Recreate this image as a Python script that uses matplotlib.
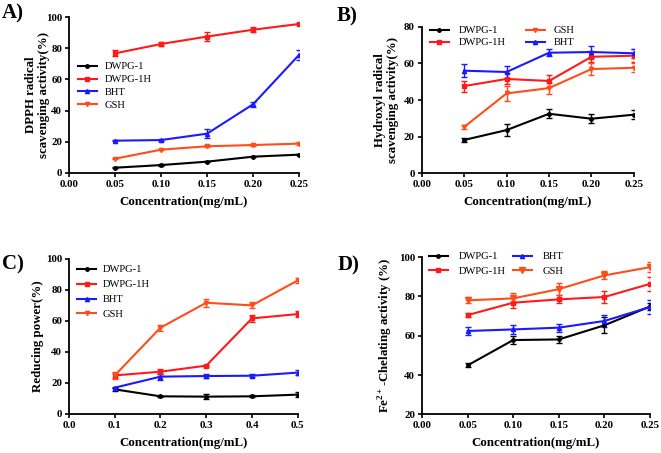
import matplotlib
matplotlib.use("Agg")
import matplotlib.pyplot as plt
from matplotlib.lines import Line2D

plt.rcParams['font.family'] = ['Liberation Serif', 'DejaVu Serif']
plt.rcParams['mathtext.fontset'] = 'custom'
plt.rcParams['mathtext.rm'] = 'Liberation Serif'
plt.rcParams['mathtext.bf'] = 'Liberation Serif:bold'

BLACK = '#000000'
RED = '#ff1a1a'
BLUE = '#1a1aff'
ORANGE = '#ff4d1a'

# Panel A: DPPH
xA = [0.05, 0.10, 0.15, 0.20, 0.25]
a_dwpg1 = [3.2, 4.9, 7.1, 10.3, 11.6]
a_dwpg1_e = [0.4, 0.8, 0.5, 0.5, 0.5]
a_dwpg1h = [76.8, 82.8, 87.6, 92.0, 95.7]
a_dwpg1h_e = [2.0, 1.5, 3.0, 1.5, 0.8]
a_bht = [20.6, 21.0, 25.1, 44.0, 75.8]
a_bht_e = [0.5, 0.5, 3.0, 1.5, 3.0]
a_gsh = [9.0, 14.8, 17.0, 17.8, 18.7]
a_gsh_e = [0.5, 0.5, 0.5, 0.5, 1.0]

# Panel B: Hydroxyl
xB = [0.05, 0.10, 0.15, 0.20, 0.25]
b_dwpg1 = [18.2, 23.6, 32.5, 29.8, 32.0]
b_dwpg1_e = [1.0, 3.5, 2.5, 2.5, 2.5]
b_dwpg1h = [47.6, 51.5, 50.4, 63.6, 64.2]
b_dwpg1h_e = [3.0, 3.0, 3.5, 3.0, 3.5]
b_gsh = [25.3, 43.6, 46.5, 56.9, 57.6]
b_gsh_e = [1.0, 4.0, 3.0, 3.5, 2.5]
b_bht = [56.0, 55.3, 65.8, 66.2, 65.5]
b_bht_e = [3.5, 3.5, 2.0, 3.5, 2.5]

# Panel C: Reducing power
xC = [0.1, 0.2, 0.3, 0.4, 0.5]
c_dwpg1 = [15.7, 11.2, 11.0, 11.2, 12.3]
c_dwpg1_e = [1.0, 0.5, 1.5, 0.7, 1.5]
c_dwpg1h = [24.7, 27.1, 31.0, 61.5, 64.3]
c_dwpg1h_e = [1.5, 1.5, 0.7, 2.5, 2.0]
c_bht = [16.8, 23.9, 24.3, 24.5, 26.5]
c_bht_e = [0.5, 2.0, 1.5, 1.0, 1.5]
c_gsh = [24.7, 55.5, 71.6, 69.9, 86.0]
c_gsh_e = [2.0, 2.0, 2.5, 2.0, 1.5]

# Panel D: Fe2+ chelating
xD = [0.05, 0.10, 0.15, 0.20, 0.25]
d_dwpg1 = [44.9, 57.8, 58.1, 65.3, 74.9]
d_dwpg1_e = [1.0, 2.0, 2.0, 4.0, 2.0]
d_dwpg1h = [70.5, 76.8, 78.5, 79.7, 86.4]
d_dwpg1h_e = [1.0, 2.5, 2.0, 3.0, 3.5]
d_bht = [62.4, 63.2, 64.1, 67.5, 74.6]
d_bht_e = [2.0, 2.5, 2.0, 3.0, 3.5]
d_gsh = [78.0, 79.0, 83.7, 90.7, 94.9]
d_gsh_e = [1.5, 2.5, 3.0, 2.0, 2.5]

fig = plt.figure(figsize=(6.61, 4.53), dpi=100)

axA = fig.add_axes([0.1044, 0.6188, 0.348, 0.343])
axB = fig.add_axes([0.638, 0.6174, 0.321, 0.3236])
axC = fig.add_axes([0.1044, 0.0868, 0.346, 0.342])
axD = fig.add_axes([0.6384, 0.0854, 0.345, 0.347])

def series(ax, x, y, e, color, marker, label, ms=3):
    ax.errorbar(x, y, yerr=e, color=color, marker=marker, ms=ms, lw=1.5,
                elinewidth=1.0, capsize=2, capthick=1.0, label=label)
    return Line2D([], [], color=color, marker=marker, ms=ms, lw=1.5, label=label)

def style(ax, xlim, xticks, xfmt, ylim, yticks, ylabel, ylab_x):
    for s in ['top', 'right']:
        ax.spines[s].set_visible(False)
    for s in ['left', 'bottom']:
        ax.spines[s].set_linewidth(1.3)
    ax.set_xlim(*xlim)
    ax.set_ylim(*ylim)
    ax.set_xticks(xticks)
    ax.set_xticklabels([xfmt.format(v) for v in xticks])
    ax.set_yticks(yticks)
    ax.tick_params(direction='out', length=3, width=1.2, labelsize=7.8, pad=2)
    for lab in ax.get_xticklabels() + ax.get_yticklabels():
        lab.set_fontweight('bold')
    ax.set_xlabel('Concentration(mg/mL)', fontsize=9.3, fontweight='bold', labelpad=5)
    ax.set_ylabel(ylabel, fontsize=9.3, fontweight='bold', linespacing=1.15)
    ax.yaxis.set_label_coords(ylab_x, 0.5)

def legend(ax, handles, anchor, ncol=1, labelspacing=0.3, textpad=0.7, colspace=1.5):
    ax.legend(handles=handles, loc='upper left', bbox_to_anchor=anchor, frameon=False,
              fontsize=7.6, ncol=ncol, handlelength=1.8, labelspacing=labelspacing,
              borderpad=0, borderaxespad=0, handletextpad=textpad, columnspacing=colspace)

# A
hA = [series(axA, xA, a_dwpg1, a_dwpg1_e, BLACK, 'o', 'DWPG-1', 2.5),
      series(axA, xA, a_dwpg1h, a_dwpg1h_e, RED, 's', 'DWPG-1H'),
      series(axA, xA, a_bht, a_bht_e, BLUE, '^', 'BHT'),
      series(axA, xA, a_gsh, a_gsh_e, ORANGE, 'v', 'GSH')]
style(axA, (0, 0.25), [0.0] + xA, '{:.2f}', (0, 100), [0, 20, 40, 60, 80, 100],
      'DPPH radical\nscavenging activity(%)', -0.083)
legend(axA, hA, (0.039, 0.712), labelspacing=0.32, textpad=0.75)

# B
hB = [series(axB, xB, b_dwpg1, b_dwpg1_e, BLACK, 'o', 'DWPG-1', 2.5),
      series(axB, xB, b_dwpg1h, b_dwpg1h_e, RED, 's', 'DWPG-1H'),
      series(axB, xB, b_gsh, b_gsh_e, ORANGE, 'v', 'GSH'),
      series(axB, xB, b_bht, b_bht_e, BLUE, '^', 'BHT')]
style(axB, (0, 0.25), [0.0] + xB, '{:.2f}', (0, 80), [0, 20, 40, 60, 80],
      'Hydroxyl radical\nscavenging activity(%)', -0.107)
legend(axB, hB, (0.039, 1.005), ncol=2, labelspacing=0.25, textpad=0.9, colspace=1.9)

# C
hC = [series(axC, xC, c_dwpg1, c_dwpg1_e, BLACK, 'o', 'DWPG-1', 2.5),
      series(axC, xC, c_dwpg1h, c_dwpg1h_e, RED, 's', 'DWPG-1H'),
      series(axC, xC, c_bht, c_bht_e, BLUE, '^', 'BHT'),
      series(axC, xC, c_gsh, c_gsh_e, ORANGE, 'v', 'GSH')]
style(axC, (0, 0.5), [0.0] + xC, '{:.1f}', (0, 100), [0, 20, 40, 60, 80, 100],
      'Reducing power(%)', -0.109)
legend(axC, hC, (0.035, 0.959), labelspacing=0.52, textpad=0.6)

# D
hD = [series(axD, xD, d_dwpg1, d_dwpg1_e, BLACK, 'o', 'DWPG-1', 2.5),
      series(axD, xD, d_dwpg1h, d_dwpg1h_e, RED, 's', 'DWPG-1H'),
      series(axD, xD, d_bht, d_bht_e, BLUE, '^', 'BHT'),
      series(axD, xD, d_gsh, d_gsh_e, ORANGE, 'v', 'GSH', 5)]
style(axD, (0, 0.25), [0.0] + xD, '{:.2f}', (20, 100), [20, 40, 60, 80, 100],
      r'Fe$^{\mathbf{2+}}$-Chelating activity (%)', -0.118)
legend(axD, hD, (0.03, 1.032), ncol=2, labelspacing=0.45, textpad=1.0, colspace=0.7)

# Panel labels
fig.text(0.003, 0.993, 'A)', fontsize=15, fontweight='bold', va='top', ha='left')
fig.text(0.510, 0.985, 'B)', fontsize=15, fontweight='bold', va='top', ha='left')
fig.text(0.003, 0.439, 'C)', fontsize=15, fontweight='bold', va='top', ha='left')
fig.text(0.511, 0.435, 'D)', fontsize=15, fontweight='bold', va='top', ha='left')

fig.savefig('out.png', dpi=100)
